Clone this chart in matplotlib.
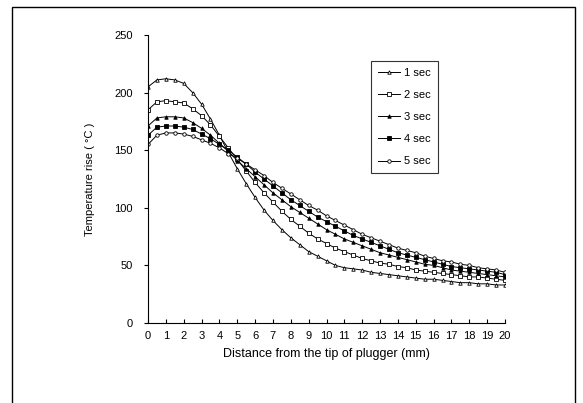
import matplotlib.pyplot as plt
from matplotlib.patches import Rectangle

# distance from plugger tip (mm), one reading every 0.5 mm
dist = [i * 0.5 for i in range(41)]

sec1 = [205, 211, 212, 211, 208, 200, 190, 177, 163, 148, 134, 121, 109, 98, 89, 81, 74,
        68, 62, 58, 54, 50, 48, 47, 46, 44, 43, 42, 41, 40, 39, 38, 38, 37, 36, 35, 35,
        34, 34, 33, 33]
sec2 = [185, 192, 193, 192, 191, 186, 180, 172, 162, 152, 142, 132, 122, 113, 105, 97, 90,
        84, 78, 73, 69, 65, 62, 59, 56, 54, 52, 51, 49, 48, 46, 45, 44, 43, 42, 41, 40,
        40, 39, 38, 37]
sec3 = [171, 178, 179, 179, 178, 174, 169, 163, 156, 149, 141, 134, 127, 120, 113, 107, 101,
        96, 91, 86, 81, 77, 73, 70, 67, 64, 61, 59, 57, 55, 53, 51, 50, 48, 46, 45, 44,
        43, 42, 41, 40]
sec4 = [163, 170, 171, 171, 170, 168, 164, 160, 155, 150, 144, 138, 131, 125, 119, 113, 107,
        102, 97, 92, 88, 84, 80, 76, 73, 70, 67, 64, 61, 59, 57, 55, 53, 51, 49, 48, 47,
        46, 45, 44, 42]
sec5 = [155, 163, 165, 165, 164, 162, 159, 156, 152, 147, 143, 138, 133, 128, 122, 117, 112,
        107, 102, 98, 93, 89, 85, 81, 77, 74, 71, 68, 65, 63, 61, 58, 56, 54, 53, 51, 50,
        48, 47, 46, 44]

labels = ["1 sec", "2 sec", "3 sec", "4 sec", "5 sec"]
series = [sec1, sec2, sec3, sec4, sec5]
markers = [("^", "white"), ("s", "white"), ("^", "black"), ("s", "black"), ("o", "white")]

plt.rcParams["font.family"] = ["Liberation Sans", "DejaVu Sans"]

fig = plt.figure(figsize=(5.83, 4.03), dpi=100)
# outer chart frame (bottom edge runs off the picture)
fig.patches.append(Rectangle((12 / 583, -0.05), 563 / 583, 1.05 - 7 / 403,
                             transform=fig.transFigure, fill=False,
                             edgecolor="black", linewidth=1.0))

ax = fig.add_axes([148 / 583, 1 - 323 / 403, 357 / 583, 288 / 403])
for ys, lab, (m, fc) in zip(series, labels, markers):
    ax.plot(dist, ys, color="black", linewidth=0.7, marker=m, markersize=2.5,
            markerfacecolor=fc, markeredgecolor="black", markeredgewidth=0.6, label=lab)

ax.set_xlim(0, 20)
ax.set_ylim(0, 250)
ax.set_xticks(range(0, 21))
ax.set_yticks(range(0, 251, 50))
ax.spines["top"].set_visible(False)
ax.spines["right"].set_visible(False)
ax.spines["left"].set_linewidth(0.8)
ax.spines["bottom"].set_linewidth(0.8)
ax.tick_params(axis="x", direction="in", length=3, labelsize=8, pad=6)
ax.tick_params(axis="y", direction="out", length=3, labelsize=8, pad=8)
ax.set_xlabel("Distance from the tip of plugger (mm)", fontsize=9, labelpad=5)
ax.set_ylabel("Temperature rise ( °C )", fontsize=8, labelpad=14)

leg = ax.legend(loc="upper left", bbox_to_anchor=(0.625, 0.91), fontsize=8,
                frameon=True, fancybox=False, edgecolor="black", handlelength=2.0,
                labelspacing=1.1, borderpad=0.6, handletextpad=0.4, borderaxespad=0)
leg.get_frame().set_linewidth(0.8)

fig.savefig("out.png", dpi=100)
